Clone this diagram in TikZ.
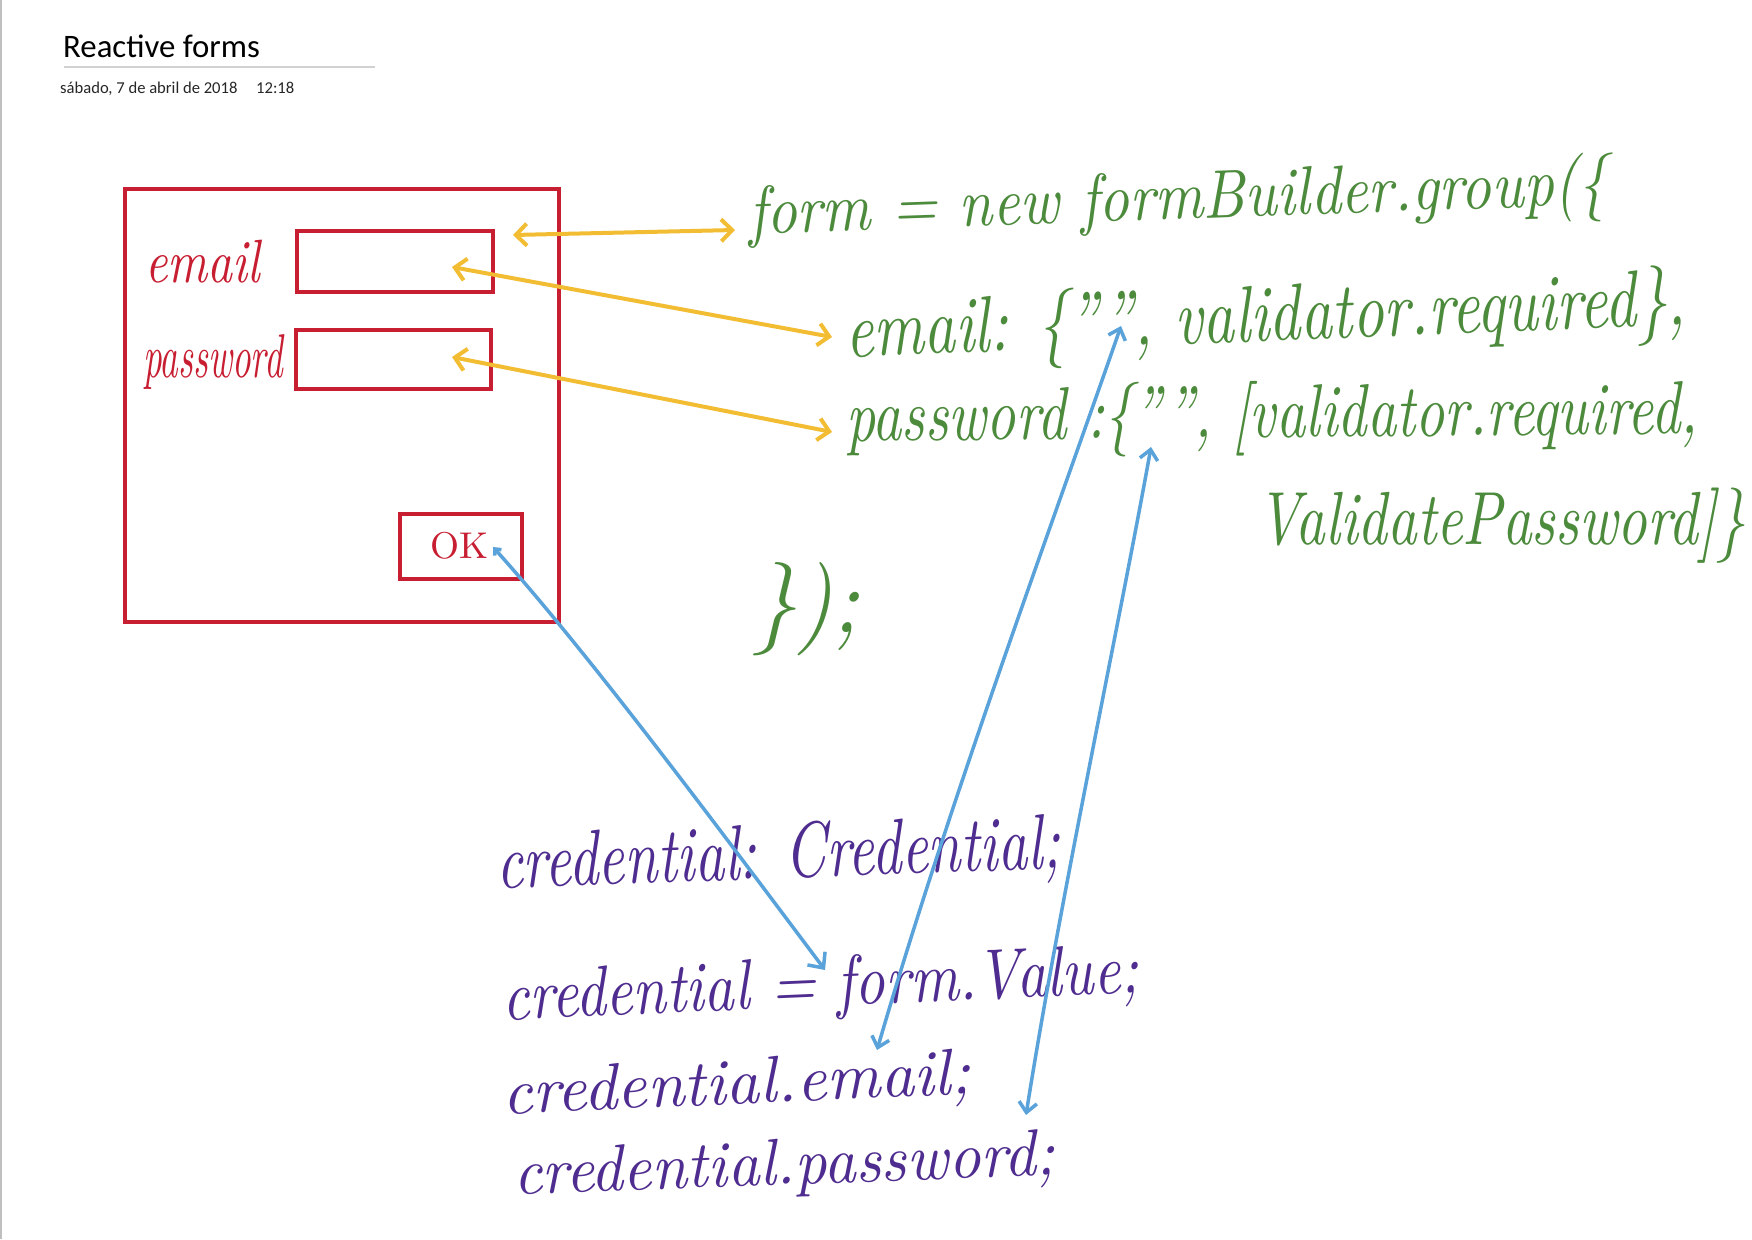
\documentclass[tikz,border=0pt]{standalone}
\usepackage{fontspec}
\usepackage{graphicx}
\usetikzlibrary{arrows.meta}
\newfontfamily\calib{Carlito}
\definecolor{inkred}{HTML}{C81E32}
\definecolor{inkyellow}{HTML}{F2BD33}
\definecolor{inkgreen}{HTML}{4C8A3C}
\definecolor{inkblue}{HTML}{5AA2DA}
\definecolor{inkpurple}{HTML}{4F2C8F}
\newcommand{\hw}[3]{\resizebox{#1pt}{!}{\scalebox{1}[#2]{#3}}}
\begin{document}
\begin{tikzpicture}[x=1pt,y=-1pt,
  redbox/.style={draw=inkred,line width=4pt,inner sep=0pt,outer sep=0pt},
  hand/.style={inner sep=0pt,outer sep=0pt,anchor=base west,font=\itshape},
  redtxt/.style={hand,text=inkred},
  greentxt/.style={hand,text=inkgreen},
  purpletxt/.style={hand,text=inkpurple},
  yarrow/.style={draw=inkyellow,line width=4pt,line cap=round,
    {Straight Barb[length=11pt,width=22pt]}-{Straight Barb[length=11pt,width=22pt]}},
  barrow/.style={draw=inkblue,line width=3.5pt,line cap=round,
    {Straight Barb[length=10pt,width=18pt]}-{Straight Barb[length=10pt,width=18pt]}},
  barrowok/.style={draw=inkblue,line width=3.5pt,line cap=round,
    {Straight Barb[length=5pt,width=9pt]}-{Straight Barb[length=12pt,width=22pt]}}
]
\useasboundingbox (0,0) rectangle (1752,1239);
\fill[white] (0,0) rectangle (1752,1239);
\draw[black!25,line width=1.5pt] (1,0) -- (1,1239);

% header
\node[inner sep=0pt,anchor=base west,font=\calib\fontsize{32.8}{38}\selectfont] (title) at (63,57) {Reactive forms};
\draw[black!18,line width=2pt] (64,67) -- (375,67);
\node[inner sep=0pt,anchor=base west,font=\calib\fontsize{16.6}{19}\selectfont,text=black!85] (date) at (60,93) {sábado, 7 de abril de 2018};
\node[inner sep=0pt,anchor=base west,font=\calib\fontsize{16.6}{19}\selectfont,text=black!85] (time) at (256,93) {12:18};

% form mock-up
\node[redbox,minimum width=434pt,minimum height=433pt] (panel) at (342,405.5) {};
\node[redbox,minimum width=196pt,minimum height=61pt] (emailbox) at (395,261.5) {};
\node[redbox,minimum width=195pt,minimum height=59pt] (pwdbox) at (393.5,359.5) {};
\node[redbox,minimum width=122pt,minimum height=65pt] (okbtn) at (461,546.5) {};
\node[redtxt] (lemail) at (145,282) {\hw{115}{1.25}{email}};
\node[redtxt] (lpwd) at (143,377) {\hw{140}{1.7}{password}};
\node[redtxt,font=\upshape] (lok) at (430,558) {\hw{58}{1}{OK}};

% green code
\node[greentxt,rotate=2] (g1) at (749,234) {\hw{860}{1.15}{form = new formBuilder.group(\{}};
\node[greentxt,rotate=2.2] (g2) at (846,357) {\hw{841}{1.3}{email: \{"", validator.required\},}};
\node[greentxt,rotate=0.5] (g3) at (846,441) {\hw{852}{1.3}{password :\{"", [validator.required,}};
\node[greentxt] (g4) at (1257,544) {\hw{488}{1.3}{ValidatePassword]\}}};
\node[greentxt] (g5) at (752,632) {\hw{108}{1.05}{\});}};

% purple code
\node[purpletxt,rotate=2] (p1) at (497,888) {\hw{564}{1.35}{credential: Credential;}};
\node[purpletxt,rotate=2.5] (p2) at (503,1020) {\hw{637}{1.2}{credential = form.Value;}};
\node[purpletxt,rotate=2.5] (p3) at (503,1114) {\hw{469}{1.0}{credential.email;}};
\node[purpletxt,rotate=2] (p4) at (514,1194) {\hw{542}{1.05}{credential.password;}};

% arrow end points
\coordinate (y1a) at (513,235); \coordinate (y1b) at (735,230);
\coordinate (y2a) at (452,267); \coordinate (y2b) at (832,337);
\coordinate (y3a) at (452,357); \coordinate (y3b) at (832,432);
\coordinate (b1a) at (493,547); \coordinate (b1b) at (825,970);
\coordinate (b2a) at (1121,326); \coordinate (b2b) at (877,1050);
\coordinate (b3a) at (1151,447); \coordinate (b3b) at (1026,1115);

\draw[yarrow] (y1a) -- (y1b);
\draw[yarrow] (y2a) -- (y2b);
\draw[yarrow] (y3a) -- (y3b);
\draw[barrowok] (b1a) .. controls (590,655) and (720,830) .. (b1b);
\draw[barrow] (b2a) .. controls (1050,530) and (950,800) .. (b2b);
\draw[barrow] (b3a) .. controls (1120,620) and (1060,900) .. (b3b);
\end{tikzpicture}
\end{document}
